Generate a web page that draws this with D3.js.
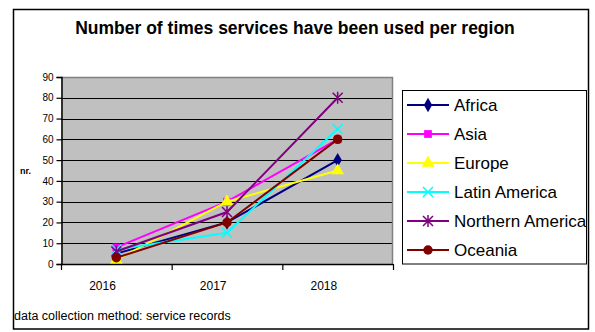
<!DOCTYPE html>
<html>
<head>
<meta charset="utf-8">
<script src="https://cdn.jsdelivr.net/npm/d3@7/dist/d3.min.js"></script>
<style>
  html, body { margin: 0; padding: 0; background: #fff; }
  svg { display: block; font-family: "Liberation Sans", Arial, sans-serif; }
</style>
</head>
<body>
<svg id="chart" width="595" height="332"></svg>
<script>
// Years on the category axis
const years = ["2016", "2017", "2018"];

// Usage counts per region, one value per year
const africa = [5, 20, 50];
const asia = [8, 30, 60];
const europe = [2, 30, 45];
const latinAmerica = [7, 15, 65];
const northernAmerica = [6, 25, 80];
const oceania = [3, 20, 60];

const yTicks = [0, 10, 20, 30, 40, 50, 60, 70, 80, 90];

const regionNames = ["Africa", "Asia", "Europe", "Latin America", "Northern America", "Oceania"];
const regionValues = [africa, asia, europe, latinAmerica, northernAmerica, oceania];
const regionColors = ["#000080", "#ff00ff", "#ffff00", "#00ffff", "#800080", "#800000"];
const regionMarkers = ["diamond", "square", "triangle", "cross", "star", "circle"];

const series = regionNames.map((name, i) => ({
  name, values: regionValues[i], color: regionColors[i], marker: regionMarkers[i]
}));

const svg = d3.select("#chart");

// Outer chart frame
svg.append("rect")
  .attr("x", 13.5).attr("y", 9.5).attr("width", 575).attr("height", 319.5)
  .attr("fill", "#fff").attr("stroke", "#000").attr("stroke-width", 1.5);

// Title
svg.append("text")
  .attr("x", 295).attr("y", 34)
  .attr("text-anchor", "middle")
  .attr("font-weight", "bold").attr("font-size", 17.5)
  .text("Number of times services have been used per region");

const plot = { left: 61, right: 393, top: 77, bottom: 264 };

const x = d3.scaleBand().domain(years).range([plot.left, plot.right]).padding(0);
const y = d3.scaleLinear().domain([0, 90]).range([plot.bottom, plot.top]);

// Plot background
svg.append("rect")
  .attr("x", plot.left).attr("y", plot.top)
  .attr("width", plot.right - plot.left).attr("height", plot.bottom - plot.top)
  .attr("fill", "#c0c0c0");

// Horizontal gridlines
svg.append("g")
  .selectAll("line")
  .data(yTicks.filter(t => t > 0 && t < 90))
  .join("line")
  .attr("x1", plot.left).attr("x2", plot.right)
  .attr("y1", d => Math.round(y(d)) + 0.5).attr("y2", d => Math.round(y(d)) + 0.5)
  .attr("stroke", "#000").attr("stroke-width", 1);

// Top and right plot border
svg.append("path")
  .attr("d", `M${plot.left},${plot.top + 0.5}H${plot.right - 0.5}V${plot.bottom}`)
  .attr("fill", "none").attr("stroke", "#808080").attr("stroke-width", 1.5);

// Y axis
const yAxis = d3.axisLeft(y).tickValues(yTicks).tickSize(5).tickPadding(3);
const gy = svg.append("g")
  .attr("transform", `translate(${plot.left + 0.5},0)`)
  .call(yAxis);
gy.select(".domain").attr("stroke", "#000").attr("stroke-width", 1.5);
gy.selectAll(".tick line").attr("stroke", "#000").attr("stroke-width", 1.2);
gy.selectAll(".tick text")
  .attr("font-family", "'Liberation Sans', Arial, sans-serif")
  .attr("font-size", 10).attr("fill", "#000");

// X axis line with ticks at category boundaries
svg.append("line")
  .attr("x1", plot.left).attr("x2", plot.right)
  .attr("y1", plot.bottom + 0.5).attr("y2", plot.bottom + 0.5)
  .attr("stroke", "#000").attr("stroke-width", 1.5);
svg.append("g")
  .selectAll("line")
  .data(years.map(d => x(d)).concat([x.range()[1]]))
  .join("line")
  .attr("x1", d => d + 0.5).attr("x2", d => d + 0.5)
  .attr("y1", plot.bottom).attr("y2", plot.bottom + 6)
  .attr("stroke", "#000").attr("stroke-width", 1.2);

// Category labels
svg.append("g")
  .selectAll("text")
  .data(years)
  .join("text")
  .attr("x", d => x(d) + x.bandwidth() * 0.375)
  .attr("y", 290)
  .attr("text-anchor", "middle")
  .attr("font-size", 12)
  .text(d => d);

// Y axis title
svg.append("text")
  .attr("x", 20).attr("y", 174)
  .attr("font-size", 9).attr("font-weight", "bold")
  .text("nr.");

// Footnote
svg.append("text")
  .attr("x", 14).attr("y", 320)
  .attr("font-size", 12.5)
  .text("data collection method: service records");

// Marker shapes
function markerPath(kind) {
  switch (kind) {
    case "diamond": return d3.symbol(d3.symbolDiamond, 60)();
    case "square": return d3.symbol(d3.symbolSquare, 60)();
    case "triangle": return d3.symbol(d3.symbolTriangle, 70)();
    case "circle": return d3.symbol(d3.symbolCircle, 70)();
    case "cross": return "M-5,-5L5,5M-5,5L5,-5";
    case "star": return "M-5,-5L5,5M-5,5L5,-5M0,-6L0,6";
  }
}

const cx = d => x(d) + x.bandwidth() / 2;
const line = d3.line().x((d, i) => cx(years[i])).y(d => y(d));

const gs = svg.append("g").selectAll("g").data(series).join("g");
gs.append("path")
  .attr("d", d => line(d.values))
  .attr("fill", "none")
  .attr("stroke", d => d.color)
  .attr("stroke-width", 2);
gs.each(function (s) {
  d3.select(this).selectAll("path.mk")
    .data(s.values)
    .join("path")
    .attr("class", "mk")
    .attr("transform", (v, i) => `translate(${cx(years[i])},${y(v)})`)
    .attr("d", markerPath(s.marker))
    .attr("fill", (s.marker === "cross" || s.marker === "star") ? "none" : s.color)
    .attr("stroke", s.color)
    .attr("stroke-width", (s.marker === "cross" || s.marker === "star") ? 1.5 : 0);
});

// Legend
const legend = svg.append("g");
legend.append("rect")
  .attr("x", 402.5).attr("y", 90.5).attr("width", 184).attr("height", 173.5)
  .attr("fill", "#fff").attr("stroke", "#000").attr("stroke-width", 1);
const items = legend.selectAll("g.item")
  .data(series)
  .join("g")
  .attr("class", "item")
  .attr("transform", (d, i) => `translate(0,${105 + i * 29})`);
items.append("line")
  .attr("x1", 407).attr("x2", 449)
  .attr("stroke", d => d.color).attr("stroke-width", 2);
items.append("path")
  .attr("transform", "translate(428,0)")
  .attr("d", d => markerPath(d.marker))
  .attr("fill", d => (d.marker === "cross" || d.marker === "star") ? "none" : d.color)
  .attr("stroke", d => d.color)
  .attr("stroke-width", d => (d.marker === "cross" || d.marker === "star") ? 1.5 : 0);
items.append("text")
  .attr("x", 454).attr("y", 6)
  .attr("font-size", 17)
  .text(d => d.name);
</script>
</body>
</html>
